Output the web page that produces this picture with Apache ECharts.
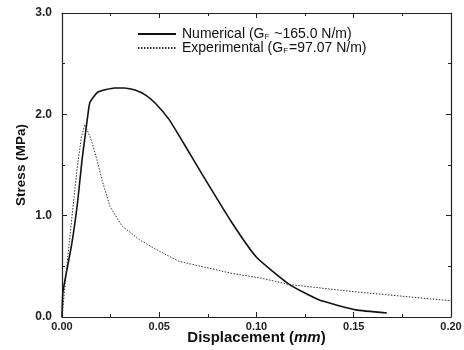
<!DOCTYPE html>
<html>
<head>
<meta charset="utf-8">
<script src="https://cdn.jsdelivr.net/npm/echarts@6/dist/echarts.min.js"></script>
<style>
html,body{margin:0;padding:0;background:#fff;}
#chart{width:464px;height:350px;}
</style>
</head>
<body>
<div id="chart"></div>
<script>
// valori
var numX = [0, 0.0005, 0.005, 0.008, 0.0103, 0.0134, 0.0144, 0.0185, 0.027, 0.032, 0.0375, 0.043, 0.048, 0.055, 0.063, 0.072, 0.0874, 0.100, 0.117, 0.132, 0.151, 0.167];
var numY = [0, 0.25, 0.72, 1.13, 1.55, 2.01, 2.12, 2.22, 2.26, 2.26, 2.24, 2.19, 2.11, 1.95, 1.70, 1.41, 0.93, 0.59, 0.32, 0.17, 0.07, 0.04];
var expX = [0, 0.003, 0.006, 0.008, 0.010, 0.0118, 0.015, 0.018, 0.0206, 0.0247, 0.0308, 0.040, 0.050, 0.060, 0.0874, 0.102, 0.117, 0.150, 0.200];
var expY = [0, 0.60, 1.15, 1.50, 1.78, 1.90, 1.75, 1.55, 1.35, 1.09, 0.90, 0.76, 0.65, 0.55, 0.43, 0.385, 0.32, 0.25, 0.16];
var xTicks = ['0.00', '0.05', '0.10', '0.15', '0.20'];
var yTicks = ['0.0', '1.0', '2.0', '3.0'];
var names = ['Numerical', 'Experimental'];

var pairs = function(xs, ys){
	var out = [];
	for(var i = 0; i < xs.length; i++){
		out.push([xs[i], ys[i]]);
	}
	return out;
};

var axisCommon = {
	axisLine: {show: true, onZero: false, lineStyle: {color: '#222', width: 1.2}},
	axisTick: {show: true, inside: true, length: 5, lineStyle: {color: '#222'}},
	minorTick: {show: true, splitNumber: 2, length: 3, lineStyle: {color: '#222'}},
	splitLine: {show: false}
};

var myChart = echarts.init(document.getElementById('chart'));
var option = {
	backgroundColor: '#fff',
	animation: false,
	grid: {left: 62, right: 13, top: 13, bottom: 33, outerBoundsMode: 'none'},
	legend: {
		orient: 'vertical',
		left: 132,
		top: 22,
		itemWidth: 38,
		itemHeight: 10,
		itemGap: 0,
		itemStyle: {opacity: 0},
		data: names,
		textStyle: {
			fontFamily: 'Liberation Sans',
			fontSize: 14,
			lineHeight: 14,
			color: '#111',
			padding: [0, 0, 0, 1],
			rich: {
				sub: {fontSize: 8, fontFamily: 'Liberation Sans', color: '#111', padding: [6, 1, 0, 0]}
			}
		},
		formatter: function(name){
			if(name == 'Numerical') return 'Numerical (G{sub|F} ~165.0 N/m)';
			return 'Experimental (G{sub|F}=97.07 N/m)';
		}
	},
	xAxis: [
		Object.assign({
			type: 'value', min: 0, max: 0.2, interval: 0.05, position: 'bottom',
			name: 'Displacement ({i|mm})',
			nameLocation: 'middle',
			nameGap: 13,
			nameMoveOverlap: false,
			nameTextStyle: {
				fontFamily: 'Liberation Sans', fontSize: 15, fontWeight: 'bold', color: '#111',
				rich: {i: {fontFamily: 'Liberation Sans', fontSize: 15, fontWeight: 'bold', fontStyle: 'italic', color: '#111'}}
			},
			axisLabel: {
				fontFamily: 'Liberation Sans', fontSize: 11, fontWeight: 'bold', color: '#222', margin: 4,
				formatter: function(v){ return xTicks[Math.round(v / 0.05)]; }
			}
		}, axisCommon),
		Object.assign({
			type: 'value', min: 0, max: 0.2, interval: 0.05, position: 'top',
			axisLabel: {show: false}
		}, axisCommon)
	],
	yAxis: [
		Object.assign({
			type: 'value', min: 0, max: 3, interval: 1, position: 'left',
			name: 'Stress (MPa)',
			nameLocation: 'middle',
			nameGap: 34,
			nameMoveOverlap: false,
			nameTextStyle: {fontFamily: 'Liberation Sans', fontSize: 13.5, fontWeight: 'bold', color: '#111'},
			axisLabel: {
				fontFamily: 'Liberation Sans', fontSize: 12, fontWeight: 'bold', color: '#222', margin: 10,
				formatter: function(v){ return yTicks[Math.round(v)]; }
			}
		}, axisCommon),
		Object.assign({
			type: 'value', min: 0, max: 3, interval: 1, position: 'right',
			axisLabel: {show: false}
		}, axisCommon)
	],
	series: [{
		name: names[0],
		type: 'line',
		data: pairs(numX, numY),
		symbol: 'none',
		smooth: 0.15,
		lineStyle: {color: '#111', width: 1.6, type: 'solid'},
		itemStyle: {color: '#111'}
	}, {
		name: names[1],
		type: 'line',
		data: pairs(expX, expY),
		symbol: 'none',
		smooth: false,
		lineStyle: {color: '#333', width: 1, type: [1.5, 1.5]},
		itemStyle: {color: '#333'}
	}]
};
myChart.setOption(option);
</script>
</body>
</html>
